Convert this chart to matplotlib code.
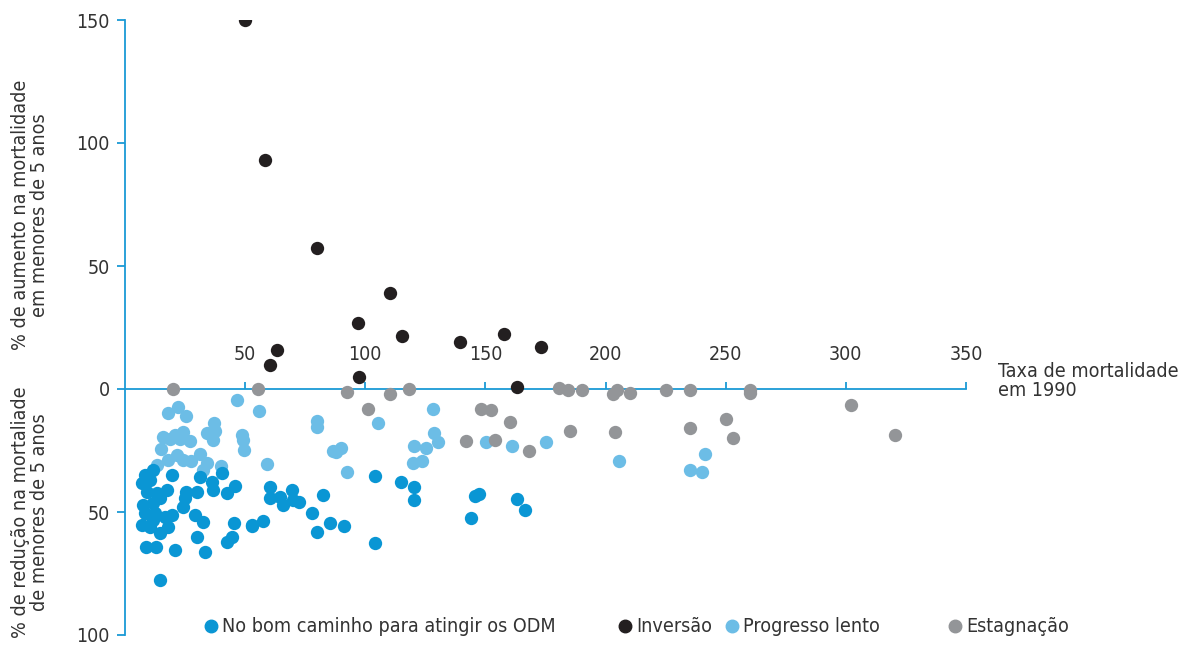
import matplotlib
matplotlib.use("Agg")
import matplotlib.pyplot as plt
from matplotlib.lines import Line2D
from matplotlib.ticker import FuncFormatter
import matplotlib.font_manager as fm

# Under-5 mortality rate in 1990 (x) vs % change in under-5 mortality (y; >0 increase, <0 reduction)
on_track_x = [8.3, 11.8, 19.4, 6.9, 10.4, 9.0, 13.2, 17.3, 7.6, 11.8, 14.6, 8.3, 12.5, 16.6, 19.4,
              6.9, 10.4, 14.6, 18.0, 11.8, 8.7, 12.9, 20.8, 14.6, 25.4, 29.8, 24.9, 24.2, 31.2,
              40.2, 36.0, 36.5, 42.3, 45.7, 29.1, 32.6, 30.0, 33.5, 42.3, 44.4, 45.3, 52.7,
              60.3, 60.3, 64.4, 69.3, 65.8, 70.0, 72.5, 82.2, 78.0, 52.7, 57.3, 80.1, 85.2,
              91.1, 104.0, 104.0, 115.0, 120.2, 120.2, 145.5, 147.3, 144.2, 163.1, 166.3]
on_track_y = [-35.0, -32.9, -35.0, -38.3, -37.0, -41.7, -42.4, -41.1, -47.2, -46.5, -44.4, -50.5,
              -50.5, -51.9, -51.2, -55.3, -56.0, -58.7, -56.0, -53.3, -64.1, -64.4, -65.4, -77.6,
              -41.7, -41.7, -44.4, -47.8, -35.7, -34.3, -37.7, -41.1, -42.4, -39.4, -51.2, -53.9,
              -60.0, -66.1, -62.1, -60.0, -54.3, -55.3, -39.7, -44.4, -43.8, -41.1, -47.2, -45.1,
              -45.8, -43.1, -50.3, -55.7, -53.5, -58.0, -54.6, -55.6, -35.4, -62.7, -37.7, -39.7,
              -45.1, -43.5, -42.8, -52.6, -44.7, -49.2]

reversal_x = [49.9, 58.2, 79.8, 110.2, 96.9, 115.2, 139.3, 157.6, 173.0, 63.2, 60.3, 97.3, 163.2]
reversal_y = [150.0, 93.1, 57.3, 39.0, 26.8, 21.5, 19.1, 22.4, 17.1, 15.9, 9.8, 4.9, 0.9]

slow_x = [175.3, 205.7, 241.4, 235.3, 240.1, 128.2, 105.3, 128.5, 130.3, 120.2, 125.4, 119.9,
          123.4, 150.4, 161.2, 55.8, 79.7, 80.0, 48.9, 49.2, 49.5, 59.2, 86.4, 90.1, 88.0, 92.2,
          46.7, 22.2, 18.0, 25.2, 37.1, 37.4, 34.2, 36.7, 24.2, 20.8, 15.9, 22.9, 27.0, 18.7,
          15.0, 21.5, 18.0, 24.0, 27.3, 31.2, 34.2, 32.3, 13.4, 39.9]
slow_y = [-21.4, -29.4, -26.3, -32.9, -33.7, -8.1, -14.0, -17.8, -21.4, -23.0, -24.1, -29.9,
          -29.3, -21.4, -23.0, -8.8, -12.9, -15.6, -18.7, -20.7, -24.8, -30.5, -25.1, -24.1,
          -25.5, -33.9, -4.5, -7.4, -9.9, -11.0, -13.7, -17.0, -18.0, -20.7, -17.3, -18.7, -19.4,
          -20.4, -21.0, -20.4, -24.5, -26.8, -28.9, -28.9, -29.3, -26.4, -29.9, -32.9, -30.9,
          -31.3]

stagnation_x = [20.0, 55.2, 92.4, 110.2, 118.2, 101.2, 148.3, 152.5, 160.4, 142.1, 154.1, 168.1,
                180.5, 184.5, 190.2, 204.7, 203.0, 210.0, 225.2, 235.2, 259.9, 260.2, 302.1,
                185.2, 204.0, 235.3, 250.3, 253.1, 320.3]
stagnation_y = [0.0, 0.0, -1.3, -2.0, 0.0, -8.1, -8.1, -8.5, -13.3, -21.0, -20.7, -25.1,
                0.3, -0.4, -0.4, -0.4, -2.0, -1.8, -0.4, -0.4, -0.4, -1.8, -6.4,
                -17.1, -17.6, -16.0, -12.2, -19.9, -18.7]

x_ticks = [50, 100, 150, 200, 250, 300, 350]
y_ticks = [-100, -50, 0, 50, 100, 150]

series_labels = ["No bom caminho para atingir os ODM", "Inversão", "Progresso lento", "Estagnação"]
colors = ["#0a96d4", "#231f20", "#6cbde6", "#939598"]

# Prefer a narrow sans face; otherwise fall back to a regular one
narrow_stretches = {"condensed", "semi-condensed", "extra-condensed", "ultra-condensed",
                    300, 400, 200, 100}
family, stretch = "Roboto", "normal"
fonts = fm.fontManager.ttflist
names = {f.name for f in fonts}
if "Liberation Sans Narrow" in names:
    family = "Liberation Sans Narrow"
elif any(f.name == "DejaVu Sans" and f.stretch in narrow_stretches and f.weight in ("normal", 400)
         for f in fonts):
    family, stretch = "DejaVu Sans", "condensed"
elif "Roboto" not in names:
    family = "DejaVu Sans"
plt.rcParams["font.family"] = [family, "DejaVu Sans"]
plt.rcParams["font.stretch"] = stretch

text_color = "#333333"
axis_color = "#1a9ad6"

fig = plt.figure(figsize=(11.87, 6.48), dpi=100)

# Size the text so the longest legend entry spans about 334 px
probe = fig.text(0, 0, series_labels[0], fontsize=15)
renderer = fig.canvas.get_renderer()
w = probe.get_window_extent(renderer).width
probe.remove()
fs = max(12.0, min(16.0, 15 * 334.0 / w))

ax = fig.add_axes([125 / 1187, 13 / 648, 841 / 1187, 615 / 648])

msize = 92
ax.scatter(stagnation_x, stagnation_y, s=msize, color=colors[3], linewidths=0, zorder=4)
ax.scatter(slow_x, slow_y, s=msize, color=colors[2], linewidths=0, zorder=2)
ax.scatter(on_track_x, on_track_y, s=msize, color=colors[0], linewidths=0, zorder=3)
ax.scatter(reversal_x, reversal_y, s=msize, color=colors[1], linewidths=0, zorder=5)

ax.set_xlim(0, 350)
ax.set_ylim(-100, 150)

for side in ("right", "bottom"):
    ax.spines[side].set_visible(False)
ax.spines["left"].set_color(axis_color)
ax.spines["left"].set_linewidth(1.3)
ax.spines["top"].set_position(("data", 0))
ax.spines["top"].set_color(axis_color)
ax.spines["top"].set_linewidth(1.3)
ax.spines["top"].set_zorder(2.5)

ax.xaxis.tick_top()
ax.set_xticks(x_ticks)
ax.tick_params(axis="x", direction="out", length=5, width=1.3, color=axis_color,
               labelsize=fs, labelcolor=text_color, pad=13)
ax.set_yticks(y_ticks)
ax.yaxis.set_major_formatter(FuncFormatter(lambda v, p: f"{abs(int(v))}"))
ax.tick_params(axis="y", direction="out", length=6, width=1.3, color=axis_color,
               labelsize=fs, labelcolor=text_color, pad=5)

fig.text(998 / 1187, 1 - 362 / 648, "Taxa de mortalidade\nem 1990", ha="left", va="top",
         fontsize=fs, color=text_color, linespacing=1.0)

fig.text(30 / 1187, 1 - 215 / 648, "% de aumento na mortalidade\nem menores de 5 anos",
         rotation=90, ha="center", va="center", multialignment="center",
         fontsize=fs, color=text_color, linespacing=1.0)
fig.text(30 / 1187, 1 - 512 / 648, "% de redução na mortaliade\nde menores de 5 anos",
         rotation=90, ha="center", va="center", multialignment="center",
         fontsize=fs, color=text_color, linespacing=1.0)

legend_marker_x = [211, 625, 732, 955]
legend_y = 1 - 626 / 648
for mx, lab, col in zip(legend_marker_x, series_labels, colors):
    fig.add_artist(Line2D([mx / 1187], [legend_y], marker="o", markersize=9, color=col,
                          linestyle="none", transform=fig.transFigure))
    fig.text((mx + 11) / 1187, legend_y, lab, ha="left", va="center",
             fontsize=fs, color=text_color)

fig.savefig("out.png", dpi=100)
